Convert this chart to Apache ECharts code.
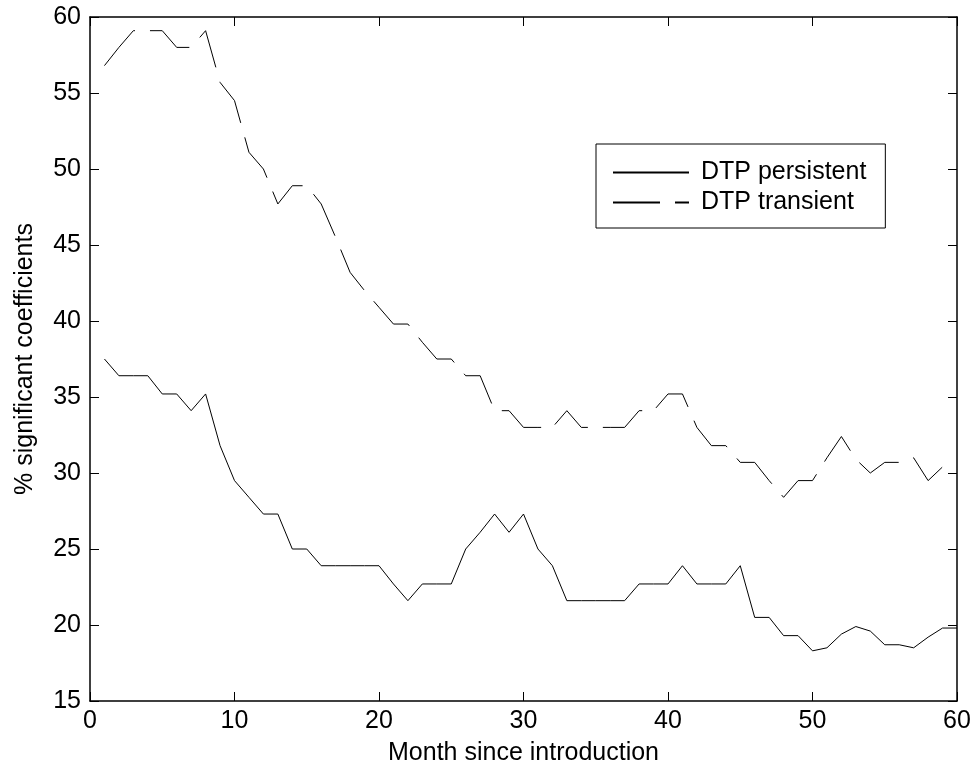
<!DOCTYPE html>
<html>
<head>
<meta charset="utf-8">
<title>DTP significant coefficients</title>
<script src="https://cdn.jsdelivr.net/npm/echarts@6/dist/echarts.min.js"></script>
<style>
  html, body { margin: 0; padding: 0; background: #fff; }
  #chart { width: 976px; height: 771px; }
</style>
</head>
<body>
<div id="chart"></div>
<script>
  // months 1..60
  var months = [];
  for (var i = 1; i <= 60; i++) months.push(i);

  var persistent = [
    37.5, 36.4, 36.4, 36.4, 35.2, 35.2, 34.1, 35.2, 31.8, 29.5,
    28.4, 27.3, 27.3, 25.0, 25.0, 23.9, 23.9, 23.9, 23.9, 23.9,
    22.7, 21.6, 22.7, 22.7, 22.7, 25.0, 26.1, 27.3, 26.1, 27.3,
    25.0, 23.9, 21.6, 21.6, 21.6, 21.6, 21.6, 22.7, 22.7, 22.7,
    23.9, 22.7, 22.7, 22.7, 23.9, 20.5, 20.5, 19.3, 19.3, 18.3,
    18.5, 19.4, 19.9, 19.6, 18.7, 18.7, 18.5, 19.2, 19.8, 19.8
  ];

  var transient = [
    56.8, 58.0, 59.1, 59.1, 59.1, 58.0, 58.0, 59.1, 55.7, 54.5,
    51.1, 50.0, 47.7, 48.9, 48.9, 47.7, 45.5, 43.2, 42.0, 40.9,
    39.8, 39.8, 38.6, 37.5, 37.5, 36.4, 36.4, 34.1, 34.1, 33.0,
    33.0, 33.0, 34.1, 33.0, 33.0, 33.0, 33.0, 34.1, 34.1, 35.2,
    35.2, 33.0, 31.8, 31.8, 30.7, 30.7, 29.5, 28.4, 29.5, 29.5,
    31.0, 32.4, 30.9, 30.0, 30.7, 30.7, 31.0, 29.5, 30.4, 30.4
  ];

  var seriesNames = ['DTP persistent', 'DTP transient'];

  function pairs(vals) {
    return months.map(function (m, k) { return [m, vals[k]]; });
  }

  var font = '"Liberation Sans", Arial, Helvetica, sans-serif';
  var axisColor = '#000';
  var fs = 25;

  var option = {
    animation: false,
    backgroundColor: '#fff',
    textStyle: { fontFamily: font },
    grid: { left: 90, right: 19, top: 17, bottom: 70 },
    legend: {
      orient: 'vertical',
      left: 596,
      top: 144,
      data: seriesNames,
      itemWidth: 76,
      itemHeight: 14,
      itemGap: 5,
      padding: [16, 19, 13, 16],
      borderColor: '#000',
      borderWidth: 1,
      backgroundColor: '#fff',
      itemStyle: { opacity: 0 },
      textStyle: {
        fontFamily: font,
        fontSize: fs,
        color: '#000',
        padding: [0, 0, 0, 7]
      }
    },
    xAxis: [
      {
        type: 'value',
        min: 0, max: 60, interval: 10,
        name: 'Month since introduction',
        nameLocation: 'middle',
        nameGap: 40,
        nameTextStyle: { fontFamily: font, fontSize: fs, color: '#000' },
        axisLine: { show: true, onZero: false, lineStyle: { color: axisColor, width: 1.5 } },
        axisTick: { show: true, inside: true, length: 9, lineStyle: { color: axisColor } },
        axisLabel: { fontFamily: font, fontSize: fs, color: '#000', margin: 8 },
        splitLine: { show: false }
      },
      {
        type: 'value', position: 'top',
        min: 0, max: 60, interval: 10,
        axisLine: { show: true, onZero: false, lineStyle: { color: axisColor, width: 1.5 } },
        axisTick: { show: true, inside: true, length: 9, lineStyle: { color: axisColor } },
        axisLabel: { show: false },
        splitLine: { show: false }
      }
    ],
    yAxis: [
      {
        type: 'value',
        min: 15, max: 60, interval: 5,
        name: '% significant coefficients',
        nameLocation: 'middle',
        nameGap: 52,
        nameTextStyle: { fontFamily: font, fontSize: fs, color: '#000' },
        axisLine: { show: true, onZero: false, lineStyle: { color: axisColor, width: 1.5 } },
        axisTick: { show: true, inside: true, length: 9, lineStyle: { color: axisColor } },
        axisLabel: { fontFamily: font, fontSize: fs, color: '#000', margin: 9 },
        splitLine: { show: false }
      },
      {
        type: 'value', position: 'right',
        min: 15, max: 60, interval: 5,
        axisLine: { show: true, onZero: false, lineStyle: { color: axisColor, width: 1.5 } },
        axisTick: { show: true, inside: true, length: 9, lineStyle: { color: axisColor } },
        axisLabel: { show: false },
        splitLine: { show: false }
      }
    ],
    series: [
      {
        name: seriesNames[0],
        type: 'line',
        data: pairs(persistent),
        symbol: 'none',
        lineStyle: { color: '#000', width: 1 },
        itemStyle: { color: '#000' }
      },
      {
        name: seriesNames[1],
        type: 'line',
        data: pairs(transient),
        symbol: 'none',
        lineStyle: { color: '#000', width: 1, type: [47, 15] },
        itemStyle: { color: '#000' }
      }
    ]
  };

  var myChart = echarts.init(document.getElementById('chart'));
  myChart.setOption(option);
  window.addEventListener('resize', function () {
    myChart.resize();
  });
</script>
</body>
</html>
